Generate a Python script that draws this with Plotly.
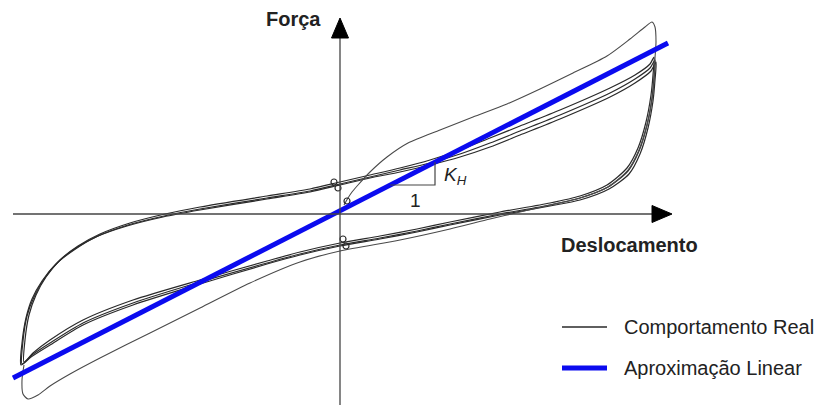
import plotly.graph_objects as go

# ---------------------------------------------------------------
# Hysteresis of an elastomeric isolator: displacement (d) vs force (F)
# Units are arbitrary (the chart has no tick values).
# ---------------------------------------------------------------

# Stabilised cycles, each traced clockwise from the negative tip
cycle_a_d = [-316, -315, -311, -304, -294, -280, -262, -240, -210, -175, -140, -73, -30, 0, 30, 60, 90, 120, 150, 180, 220, 270, 295, 310, 314,
             313, 311, 306, 298, 287, 267, 240, 210, 160, 110, 77, 40, 0, -40, -73, -140, -207, -257, -290, -307, -316]
cycle_a_f = [-148, -126, -101, -81, -63, -46, -32, -20, -9, 0, 7, 18, 25, 32, 39, 46, 54, 64, 76, 88, 104, 126, 139, 150, 157,
             139, 119, 92, 66, 46, 29, 18, 11, 2, -8, -15, -22, -29, -38, -47, -66, -86, -106, -126, -139, -148]

cycle_b_d = [-318, -317, -313, -306, -296, -282, -264, -242, -212, -176, -140, -73, -30, 0, 30, 60, 90, 120, 150, 180, 220, 270, 295, 310, 315,
             314, 312, 307, 299, 288, 268, 240, 210, 160, 110, 77, 40, 0, -40, -73, -140, -207, -257, -290, -308, -318]
cycle_b_f = [-150, -127, -102, -83, -65, -48, -34, -22, -11, -2, 5, 16, 23, 30, 37, 44, 51, 60, 71, 83, 99, 121, 135, 146, 154,
             136, 116, 89, 63, 43, 27, 16, 9, 0, -10, -17, -24, -31, -40, -49, -68, -89, -109, -129, -141, -150]

cycle_c_d = [-319, -318, -314, -308, -298, -284, -266, -244, -213, -177, -140, -73, -30, 0, 30, 60, 90, 120, 150, 180, 220, 270, 295, 311, 316,
             315, 313, 308, 300, 289, 269, 240, 210, 160, 110, 77, 40, 0, -40, -73, -140, -207, -257, -290, -309, -319]
cycle_c_f = [-151, -129, -104, -85, -67, -50, -36, -23, -12, -3, 4, 15, 22, 29, 36, 42, 49, 57, 67, 79, 95, 117, 131, 143, 152,
             134, 113, 86, 60, 40, 25, 14, 8, -1, -11, -18, -25, -32, -41, -50, -70, -91, -111, -131, -143, -151]

# First cycle: virgin loading from the origin, then the widest loop
first_cycle_d = [4, 8, 12, 18, 30, 47, 68, 100, 133, 167, 200, 233, 267, 290, 305, 312, 315, 316, 315,
                 314, 312, 307, 299, 288, 268, 240, 210, 180, 150, 110, 60, 0, -40, -90, -140, -190, -240,
                 -270, -290, -302, -312, -317, -318, -316]
first_cycle_f = [9, 16, 22, 29, 42, 57, 71, 84, 97, 110, 125, 141, 158, 175, 187, 192, 187, 172, 156,
                 134, 114, 89, 64, 44, 27, 16, 9, 2, -5, -15, -26, -37, -48, -69, -94, -119, -144,
                 -160, -172, -181, -185, -180, -166, -151]

# Small reversal loops recorded near zero displacement
small_loops_d = [-6, -2, 3, 6, 7]
small_loops_f = [32, 26, -25, -32, 13]

# Linear approximation (effective horizontal stiffness K_H)
linear_d = [-327, 328]
linear_f = [-164, 171]

LOOP_COLOR = "#2a2a2a"
FIRST_COLOR = "#4a4a4a"
LINEAR_COLOR = "#0b0bef"
FONT = "Liberation Sans, Arial, sans-serif"

fig = go.Figure()

for d, f in [(cycle_a_d, cycle_a_f), (cycle_b_d, cycle_b_f), (cycle_c_d, cycle_c_f)]:
    fig.add_trace(go.Scatter(
        x=d, y=f, mode="lines",
        line=dict(color=LOOP_COLOR, width=1.2, shape="spline", smoothing=0.7),
        showlegend=False, hoverinfo="skip"))

fig.add_trace(go.Scatter(
    x=first_cycle_d, y=first_cycle_f, mode="lines",
    line=dict(color=FIRST_COLOR, width=1.1, shape="spline", smoothing=0.7),
    showlegend=False, hoverinfo="skip"))

fig.add_trace(go.Scatter(
    x=small_loops_d, y=small_loops_f, mode="markers",
    marker=dict(symbol="circle-open", size=6, color=LOOP_COLOR, line=dict(width=1.2)),
    showlegend=False, hoverinfo="skip"))

fig.add_trace(go.Scatter(
    x=linear_d, y=linear_f, mode="lines",
    line=dict(color=LINEAR_COLOR, width=5),
    showlegend=False, hoverinfo="skip"))

# ---- axes with arrow heads ----
X_AXIS_START, X_AXIS_TIP = -327, 332
Y_AXIS_BOTTOM, Y_AXIS_TIP = -191, 196
ARROW_LEN, ARROW_HALF = 20, 8.5
AXIS_COLOR = "#444444"

fig.add_shape(type="line", x0=X_AXIS_START, y0=0, x1=X_AXIS_TIP - ARROW_LEN, y1=0,
              line=dict(color=AXIS_COLOR, width=1.3))
fig.add_shape(type="line", x0=0, y0=Y_AXIS_BOTTOM, x1=0, y1=Y_AXIS_TIP - ARROW_LEN,
              line=dict(color=AXIS_COLOR, width=1.3))
fig.add_shape(type="path",
              path=f"M {X_AXIS_TIP},0 L {X_AXIS_TIP - ARROW_LEN},{ARROW_HALF} L {X_AXIS_TIP - ARROW_LEN},{-ARROW_HALF} Z",
              fillcolor="black", line=dict(color="black", width=1))
fig.add_shape(type="path",
              path=f"M 0,{Y_AXIS_TIP} L {ARROW_HALF},{Y_AXIS_TIP - ARROW_LEN} L {-ARROW_HALF},{Y_AXIS_TIP - ARROW_LEN} Z",
              fillcolor="black", line=dict(color="black", width=1))

# ---- slope triangle for K_H, built on the linear approximation ----
k_h = (linear_f[1] - linear_f[0]) / (linear_d[1] - linear_d[0])
TRI_LEVEL, TRI_RIGHT = 29, 95
tri_left = linear_d[0] + (TRI_LEVEL - linear_f[0]) / k_h
tri_top = linear_f[0] + k_h * (TRI_RIGHT - linear_d[0])
fig.add_shape(type="path",
              path=f"M {tri_left},{TRI_LEVEL} L {TRI_RIGHT},{TRI_LEVEL} L {TRI_RIGHT},{tri_top}",
              line=dict(color=AXIS_COLOR, width=1.2))

annotations = [
    dict(x=-47, y=195, text="<b>Força</b>", font=dict(size=20, color="#222", family=FONT)),
    dict(x=289, y=-31, text="<b>Deslocamento</b>", font=dict(size=20, color="#222", family=FONT)),
    dict(x=115, y=38, text="<i>K</i><sub><i>H</i></sub>", font=dict(size=19, color="#222", family=FONT)),
    dict(x=75, y=14, text="1", font=dict(size=19, color="#222", family=FONT)),
]

# ---- legend ----
LEG_X0, LEG_X1, LEG_TEXT_X = 222, 267, 282
legend_rows = [("Comportamento Real", LOOP_COLOR, 1.3, -113),
               ("Aproximação Linear", LINEAR_COLOR, 5, -154)]
for label, color, width, y in legend_rows:
    fig.add_shape(type="line", x0=LEG_X0, y0=y, x1=LEG_X1, y1=y, line=dict(color=color, width=width))
    annotations.append(dict(x=LEG_TEXT_X, y=y, text=label, xanchor="left",
                            font=dict(size=20, color="#222", family=FONT)))

for a in annotations:
    a.setdefault("xanchor", "center")
    fig.add_annotation(showarrow=False, yanchor="middle", **a)

fig.update_layout(
    width=821, height=407,
    margin=dict(l=0, r=0, t=0, b=0),
    paper_bgcolor="white", plot_bgcolor="white",
    xaxis=dict(range=[-340, 481], visible=False, fixedrange=True),
    yaxis=dict(range=[-193, 214], visible=False, fixedrange=True),
    showlegend=False,
)

fig.write_html("out.html")
